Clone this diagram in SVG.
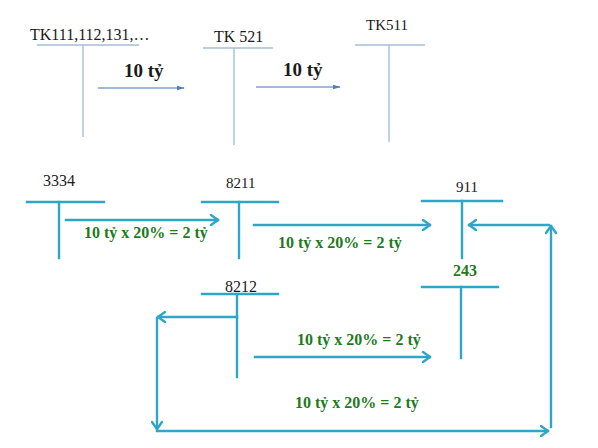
<svg xmlns="http://www.w3.org/2000/svg" width="598" height="448" viewBox="0 0 598 448">
<style>
.t{font-family:"Liberation Serif","Times New Roman",serif;fill:#1a1a1a}
.g{font-family:"Liberation Serif","Times New Roman",serif;font-weight:bold;fill:#1d7a1d;font-size:16px}
.tl{stroke:#a9bdd6;stroke-width:1.4;fill:none}
.ta{stroke:#7fa2cc;stroke-width:1.4;fill:none}
.bl{stroke:#2ea6c6;stroke-width:2.4;fill:none;stroke-linecap:square}
</style>
<defs>
<marker id="ah" viewBox="0 0 10 10" refX="9" refY="5" markerWidth="8" markerHeight="8" markerUnits="userSpaceOnUse" orient="auto">
<path d="M0,2 L10,5 L0,8 Z" fill="#4f81bd"/>
</marker>
<marker id="bh" viewBox="0 0 12 12" refX="10" refY="6" markerWidth="12" markerHeight="12" markerUnits="userSpaceOnUse" orient="auto">
<path d="M3,1 L10,6 L3,11" fill="none" stroke="#2ea6c6" stroke-width="2.4" stroke-linecap="round" stroke-linejoin="round"/>
</marker>
</defs>
<rect width="598" height="448" fill="#ffffff"/>

<g id="tk111">
<text class="t" x="30" y="40" font-size="16">TK111,112,131,…</text>
<line class="tl" x1="37" y1="45" x2="139" y2="45"/>
<line class="tl" x1="83" y1="45" x2="83" y2="137"/>
</g>
<g id="tk521">
<text class="t" x="214" y="42" font-size="16">TK 521</text>
<line class="tl" x1="203" y1="48" x2="273" y2="48"/>
<line class="tl" x1="234" y1="48" x2="234" y2="145"/>
</g>
<g id="tk511">
<text class="t" x="366" y="30" font-size="15">TK511</text>
<line class="tl" x1="355" y1="45" x2="425" y2="45"/>
<line class="tl" x1="389" y1="45" x2="389" y2="142"/>
</g>

<g id="n3334">
<text class="t" x="43" y="186" font-size="16">3334</text>
<line class="bl" x1="27" y1="202" x2="104" y2="202"/>
<line class="bl" x1="59" y1="202" x2="59" y2="258"/>
</g>
<g id="n8211">
<text class="t" x="226" y="188" font-size="15">8211</text>
<line class="bl" x1="202" y1="202" x2="278" y2="202"/>
<line class="bl" x1="239" y1="202" x2="239" y2="258"/>
</g>
<g id="n911">
<text class="t" x="456" y="192" font-size="15">911</text>
<line class="bl" x1="422" y1="201" x2="502" y2="201"/>
<line class="bl" x1="462" y1="201" x2="462" y2="258"/>
</g>
<g id="n243">
<text class="g" x="453" y="276">243</text>
<line class="bl" x1="422" y1="287" x2="498" y2="287"/>
<line class="bl" x1="461" y1="287" x2="461" y2="358"/>
</g>
<g id="n8212">
<text class="t" x="225" y="292" font-size="16">8212</text>
<line class="bl" x1="202" y1="294" x2="278" y2="294"/>
<line class="bl" x1="237" y1="294" x2="237" y2="377"/>
</g>

<g id="connectors">
<line class="ta" x1="98" y1="88" x2="184" y2="88" marker-end="url(#ah)"/>
<text class="t" x="124" y="77" font-size="19" font-weight="bold">10 tỷ</text>
<line class="ta" x1="256" y1="87" x2="340" y2="87" marker-end="url(#ah)"/>
<text class="t" x="283" y="76" font-size="19" font-weight="bold">10 tỷ</text>

<line class="bl" x1="66" y1="220" x2="218" y2="220" marker-end="url(#bh)"/>
<text class="g" x="84" y="238">10 tỷ x 20% = 2 tỷ</text>
<line class="bl" x1="254" y1="225" x2="430" y2="225" marker-end="url(#bh)"/>
<text class="g" x="278" y="248">10 tỷ x 20% = 2 tỷ</text>
<line class="bl" x1="255" y1="357" x2="430" y2="357" marker-end="url(#bh)"/>
<text class="g" x="297" y="345">10 tỷ x 20% = 2 tỷ</text>
<text class="g" x="295" y="408">10 tỷ x 20% = 2 tỷ</text>

<line class="bl" x1="237" y1="317" x2="158" y2="317" marker-end="url(#bh)"/>
<line class="bl" x1="157" y1="318" x2="157" y2="429" marker-end="url(#bh)"/>
<line class="bl" x1="157" y1="431" x2="548" y2="431" marker-end="url(#bh)"/>
<line class="bl" x1="551" y1="427" x2="551" y2="226" marker-end="url(#bh)"/>
<line class="bl" x1="549" y1="225" x2="469" y2="225" marker-end="url(#bh)"/>
</g>
</svg>
